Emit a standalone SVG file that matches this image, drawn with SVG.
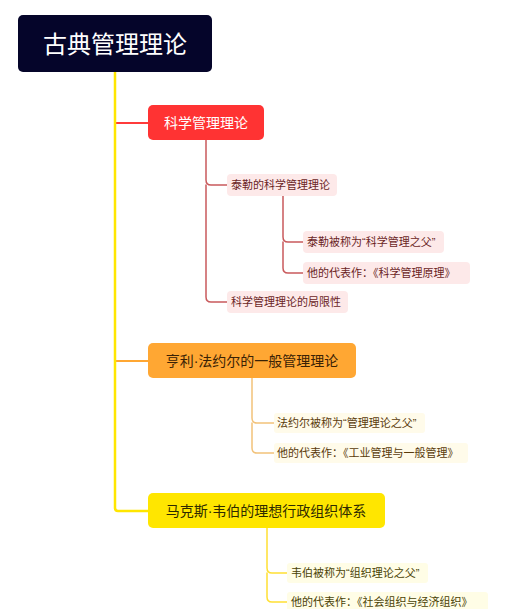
<svg xmlns="http://www.w3.org/2000/svg" width="510" height="609" viewBox="0 0 510 609">
<style>
text{font-family:"Liberation Sans","Noto Sans CJK SC",sans-serif}
.main{font-size:14px}
.sub{font-size:11px}
.c{fill:none;stroke-linecap:round;stroke-linejoin:round}
.cr{stroke:#c95a5c;stroke-width:1.5}
.co{stroke:#f2c27a;stroke-width:1.5}
.cy{stroke:#ffe033;stroke-width:1.5}
</style>
<rect width="510" height="609" fill="#ffffff"/>
<g id="connectors">
<path class="c" d="M115 123H148" stroke="#ff3b3b" stroke-width="2"/>
<path class="c" d="M115 361H148" stroke="#ffa733" stroke-width="2"/>
<path class="c" d="M115 72V508Q115 511 118 511H148" stroke="#ffe600" stroke-width="2.5"/>
<path class="c cr" d="M206 140V180Q206 185 211 185H227"/>
<path class="c cr" d="M206 185V297Q206 302 211 302H227"/>
<path class="c cr" d="M283 196V237Q283 242 288 242H303"/>
<path class="c cr" d="M283 242V268Q283 273 288 273H303"/>
<path class="c co" d="M252 378V418Q252 423 257 423H274"/>
<path class="c co" d="M252 423V448Q252 453 257 453H274"/>
<path class="c cy" d="M267 528V568Q267 573 272 573H287"/>
<path class="c cy" d="M267 573V597Q267 602 272 602H287"/>
</g>
<g id="root">
<rect x="18" y="15" width="194" height="57" rx="5" fill="#05052a"/>
<text x="115" y="53" font-size="24" fill="#ffffff" text-anchor="middle">古典管理理论</text>
</g>
<g id="n-kexue">
<rect x="148" y="105" width="116" height="35" rx="5" fill="#ff3333"/>
<text class="main" x="206" y="128" fill="#ffffff" text-anchor="middle">科学管理理论</text>
</g>
<g id="n-taile">
<rect x="227" y="174" width="110" height="22" rx="4" fill="#fde9e9"/>
<text class="sub" x="231" y="189" fill="#6b1f1f">泰勒的科学管理理论</text>
</g>
<g id="n-taile-fu">
<rect x="303" y="231" width="141" height="22" rx="4" fill="#fde9e9"/>
<text class="sub" x="307" y="246" fill="#6b1f1f">泰勒被称为“科学管理之父”</text>
</g>
<g id="n-taile-book">
<rect x="303" y="262" width="167" height="22" rx="4" fill="#fde9e9"/>
<text class="sub" x="307" y="277" fill="#6b1f1f">他的代表作：《科学管理原理》</text>
</g>
<g id="n-juxian">
<rect x="227" y="291" width="121" height="22" rx="4" fill="#fde9e9"/>
<text class="sub" x="231" y="306" fill="#6b1f1f">科学管理理论的局限性</text>
</g>
<g id="n-fayol">
<rect x="148" y="343" width="208" height="35" rx="5" fill="#ffa733"/>
<text class="main" x="252" y="366" fill="#3a2205" text-anchor="middle">亨利·法约尔的一般管理理论</text>
</g>
<g id="n-fayol-fu">
<rect x="274" y="413" width="151" height="20" rx="3" fill="#fffbea"/>
<text class="sub" x="277" y="427" fill="#5a3a0a">法约尔被称为“管理理论之父”</text>
</g>
<g id="n-fayol-book">
<rect x="274" y="443" width="194" height="20" rx="3" fill="#fffbea"/>
<text class="sub" x="277" y="457" fill="#5a3a0a">他的代表作：《工业管理与一般管理》</text>
</g>
<g id="n-weber">
<rect x="148" y="493" width="237" height="35" rx="5" fill="#ffe600"/>
<text class="main" x="266" y="516" fill="#2e2a00" text-anchor="middle">马克斯·韦伯的理想行政组织体系</text>
</g>
<g id="n-weber-fu">
<rect x="287" y="563" width="141" height="20" rx="3" fill="#fffde6"/>
<text class="sub" x="291" y="577" fill="#4a4205">韦伯被称为“组织理论之父”</text>
</g>
<g id="n-weber-book">
<rect x="287" y="592" width="201" height="20" rx="3" fill="#fffde6"/>
<text class="sub" x="291" y="606" fill="#4a4205">他的代表作：《社会组织与经济组织》</text>
</g>
</svg>
